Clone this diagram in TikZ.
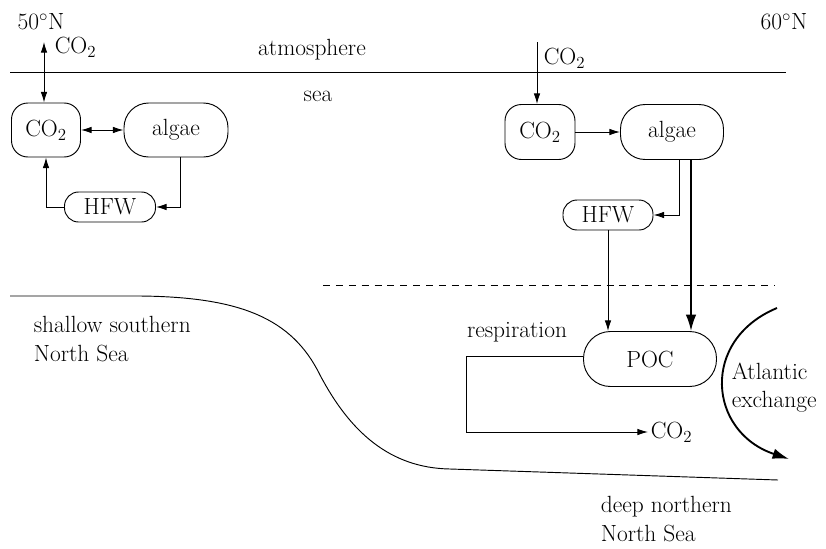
\documentclass[tikz,border=0pt]{standalone}
\usetikzlibrary{arrows.meta}

\begin{document}
\begin{tikzpicture}[
  x=0.03cm, y=-0.03cm,
  line width=0.8pt,
  every node/.style={font=\fontsize{20}{24}\selectfont},
  box/.style={draw,inner sep=2pt,minimum height=1.62cm},
  lbl/.style={inner sep=2pt},
  arr/.style={-{Latex[length=9pt,width=5.5pt]}},
  twoarr/.style={{Latex[length=9pt,width=5.5pt]}-{Latex[length=9pt,width=5.5pt]}},
  thickarr/.style={line width=1.6pt,-{Latex[length=14pt,width=9pt]}}
]
  \useasboundingbox (0,0) rectangle (826,548);

  % surface and labels
  \draw (10,72) -- (786,72);
  \node[lbl] (atm) at (312,50) {atmosphere};
  \node[lbl] (sea) at (318,96) {sea};
  \node[lbl] (lat50) at (41,22) {50$^\circ$N};
  \node[lbl] (lat60) at (784,22) {60$^\circ$N};

  % southern part
  \node[box,rounded corners=14pt,minimum width=2.07cm] (co2L) at (46,130) {CO$_2$};
  \node[box,rounded corners=21pt,minimum width=3.12cm] (algL) at (176,130) {algae};
  \node[box,rounded corners=12pt,minimum height=0.9cm,minimum width=2.73cm] (hfwL) at (110,207) {HFW};
  \coordinate (airL) at (44,42);
  \node[lbl,anchor=west] (gasL) at (52,47) {CO$_2$};

  \draw[twoarr] (airL) -- (airL |- co2L.north);
  \draw[twoarr] (co2L) -- (algL);
  \draw[arr] ([xshift=0.12cm]algL.south) |- (hfwL.east);
  \draw[arr] (hfwL.west) -| (co2L.south);

  % northern part
  \node[box,rounded corners=14pt,minimum width=2.1cm,minimum height=1.65cm] (co2R) at (540,132) {CO$_2$};
  \node[box,rounded corners=21pt,minimum width=3.09cm,minimum height=1.65cm] (algR) at (672,132) {algae};
  \node[box,rounded corners=12pt,minimum height=0.9cm,minimum width=2.7cm] (hfwR) at (608,215) {HFW};
  \node[box,rounded corners=23pt,minimum width=3.99cm,minimum height=1.65cm] (poc) at (650,359) {POC};
  \coordinate (airR) at (537,42);
  \node[lbl,anchor=west] (gasR) at (541,58) {CO$_2$};

  \draw[arr] (airR) -- (airR |- co2R.north);
  \draw[arr] (co2R) -- (algR);
  \draw[arr] ([xshift=0.21cm]algR.south) |- (hfwR.east);
  \draw[thickarr] ([xshift=0.57cm]algR.south) -- ([xshift=0.57cm]algR.south |- poc.north);
  \draw[arr] (hfwR.south) -- (hfwR.south |- poc.north);

  \draw[dashed,dash pattern=on 6pt off 5pt] (323,285) -- (775,285);

  % respiration
  \node[lbl] (resp) at (517,332) {respiration};
  \node[lbl,anchor=west] (co2D) at (648,432) {CO$_2$};
  \coordinate (bend) at (466,356);
  \draw[arr] (poc.west |- bend) -- (bend) |- (co2D.west);

  % Atlantic exchange
  \coordinate (atlA) at (777,308);
  \coordinate (atlB) at (789,459);
  \draw[thickarr] (atlA) .. controls (700,340) and (708,432) .. (atlB);
  \node[lbl,anchor=west,align=left] (atl) at (729,388) {Atlantic\\exchange};

  % sea floor
  \draw (10,296) -- (140,296) .. controls (240,297) and (292,318) .. (320,375)
    .. controls (350,432) and (390,468) .. (450,469) -- (778,480);
  \node[lbl,anchor=west,align=left] (south) at (31,339) {shallow southern\\North Sea};
  \node[lbl,anchor=west,align=left] (north) at (598,519) {deep northern\\North Sea};
\end{tikzpicture}
\end{document}
